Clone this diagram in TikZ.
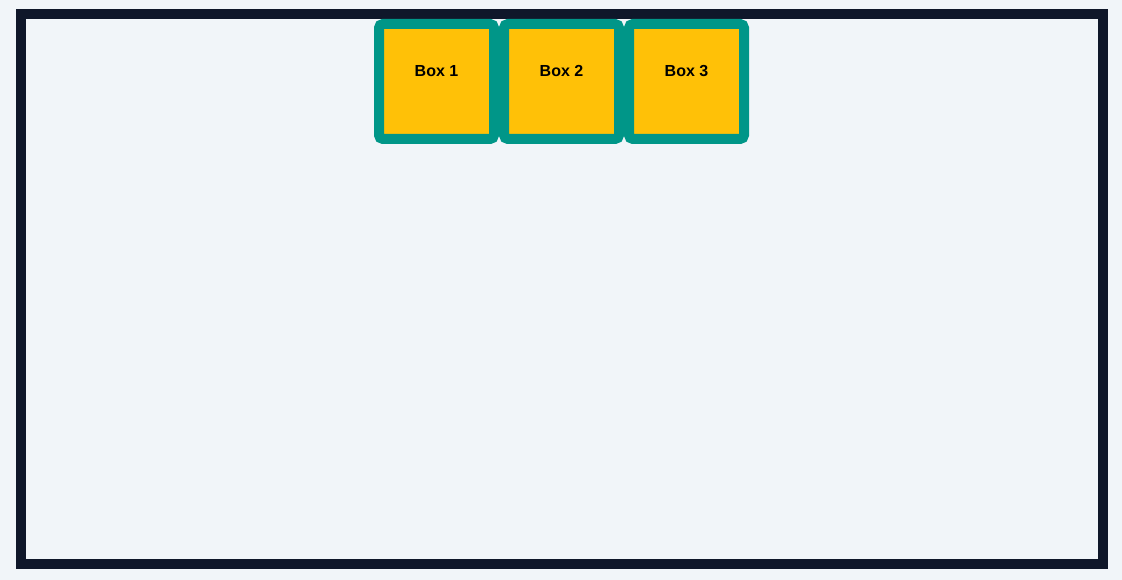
\documentclass[tikz,border=0pt]{standalone}
\usepackage{fontspec}
\setmainfont{Liberation Sans}
\definecolor{bgcol}{HTML}{F1F5F9}
\definecolor{framecol}{HTML}{0F172A}
\definecolor{tealcol}{HTML}{009688}
\definecolor{ambercol}{HTML}{FFC107}
\begin{document}
\begin{tikzpicture}[x=1pt,y=-1pt,
  boxnode/.style={draw=tealcol,fill=ambercol,line width=10pt,rounded corners=4pt,
    minimum width=115pt,minimum height=115pt,inner sep=0pt},
  boxlabel/.style={font=\fontsize{16}{18}\selectfont\bfseries,text=black,inner sep=0pt}]
\useasboundingbox (0,0) rectangle (1122,580);
\fill[bgcol] (0,0) rectangle (1122,580);
\draw[framecol,line width=10pt] (21,14) rectangle (1103,564);
\node[boxnode] (b1) at (436.5,81.5) {};
\node[boxnode] (b2) at (561.5,81.5) {};
\node[boxnode] (b3) at (686.5,81.5) {};
\node[boxlabel] (t1) at ([yshift=10.5pt]b1.center) {Box 1};
\node[boxlabel] (t2) at ([yshift=10.5pt]b2.center) {Box 2};
\node[boxlabel] (t3) at ([yshift=10.5pt]b3.center) {Box 3};
\end{tikzpicture}
\end{document}
